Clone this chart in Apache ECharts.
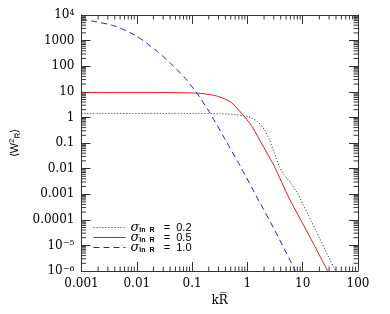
<!DOCTYPE html>
<html><head><meta charset="utf-8">
<script src="https://cdn.jsdelivr.net/npm/echarts@6/dist/echarts.min.js"></script>
<style>html,body{margin:0;padding:0;background:#fff}#c{width:390px;height:314px}</style>
</head><body><div id="c"></div>
<script>
// ---- data ([k*Rbar, <W^2>]) ----
const sigma02 = [[0.001,1.43],[0.1,1.43],[0.316,1.38],[0.447,1.35],[0.631,1.26],[1.0,1.1],[1.26,0.89],[1.55,0.676],[2.04,0.324],[2.51,0.132],[3.08,0.0398],[3.78,0.012],[4.63,0.00562],[6.11,0.00269],[8.04,0.0011],[10,0.00042],[13.9,1e-4],[36.3,1.4e-6],[39.8,1e-6]];
const sigma05 = [[0.001,9.48],[0.01,9.46],[0.0316,9.38],[0.1,9.0],[0.158,8.5],[0.261,7.1],[0.355,5.75],[0.518,3.75],[0.782,1.45],[1.175,0.49],[1.78,0.102],[3.08,0.012],[5.69,6.9e-4],[10,7.1e-5],[15.8,1.12e-5],[28.2,1e-6]];
const sigma10 = [[0.001,6900],[0.002,5250],[0.00347,4070],[0.005,3090],[0.00692,2240],[0.01,1480],[0.0138,912],[0.0237,372],[0.0407,129],[0.0711,38.9],[0.123,8.7],[0.212,1.45],[0.398,0.135],[0.782,0.0102],[1.55,6.5e-4],[3.16,3.7e-5],[7.4,1e-6]];
const seriesNames = ['0.2','0.5','1.0'];
const xTickLabels = ['0.001','0.01','0.1','1','10','100'];           // 10^-3 .. 10^2
const yTickLabels = ['10{sup|\u22126}','10{sup|\u22125}','0.0001','0.001','0.01','0.1','1','10','100','1000','10{sup|4}']; // 10^-6 .. 10^4
const xMin = 0.001, xMax = 100, yMin = 1e-6, yMax = 1e4;

const font = 'DejaVu Serif';
const sans = 'Liberation Sans';
const colors = ['#222222', '#e8141c', '#1a1aff'];
const dashes = [[1, 2], 'solid', [6, 4]];
const minorX = [], minorY = [];
for (let d = -3; d < 2; d++) for (let m = 2; m <= 9; m++) minorX.push([m * Math.pow(10, d), yMin]);
for (let d = -6; d < 4; d++) for (let m = 2; m <= 9; m++) minorY.push([xMin, m * Math.pow(10, d)]);

const chart = echarts.init(document.getElementById('c'), null, {renderer: 'canvas'});
const axisCol = '#333';
function xAx(pos, labels) {
  return {type: 'log', logBase: 10, min: xMin, max: xMax, interval: 1, position: pos,
    axisLine: {show: true, onZero: false, lineStyle: {color: axisCol, width: 1}},
    axisTick: {show: true, inside: true, length: 9, lineStyle: {color: axisCol}},
    splitLine: {show: false},
    axisLabel: {show: labels, margin: 7, color: '#000', fontFamily: font, fontSize: 12,
      formatter: v => xTickLabels[Math.round(Math.log10(v)) + 3]},
    name: labels ? 'k\u0052\u0305' : '', nameLocation: 'middle', nameGap: 22,
    nameTextStyle: {fontFamily: font, fontSize: 12, color: '#000'}};
}
function yAx(pos, labels) {
  return {type: 'log', logBase: 10, min: yMin, max: yMax, interval: 1, position: pos,
    axisLine: {show: true, onZero: false, lineStyle: {color: axisCol, width: 1}},
    axisTick: {show: true, inside: true, length: 9, lineStyle: {color: axisCol}},
    splitLine: {show: false},
    axisLabel: {show: labels, margin: 7, color: '#000', fontFamily: font, fontSize: 12,
      formatter: v => yTickLabels[Math.round(Math.log10(v)) + 6],
      rich: {sup: {fontSize: 8, fontFamily: font, verticalAlign: 'top', lineHeight: 10, padding: [0,0,4,0]}}},
    name: labels ? '\u27e8W{sup|2}{sub|R\u0305}\u27e9' : '', nameLocation: 'middle', nameGap: 60, nameRotate: 90,
    nameTextStyle: {fontFamily: sans, fontSize: 11, color: '#000',
      rich: {sup: {fontSize: 8, fontFamily: sans, padding: [0,0,5,0]}, sub: {fontSize: 8, fontFamily: sans, padding: [6,0,0,0]}}}};
}
function tickSeries(data, horizontal) {
  return {type: 'custom', silent: true, data: data, xAxisIndex: 0, yAxisIndex: 0, z: 5,
    renderItem: (params, api) => {
      const L = 4.5;
      let a, b;
      if (horizontal) { a = api.coord([api.value(0), yMin]); b = api.coord([api.value(0), yMax]);
        return {type: 'group', children: [
          {type: 'line', shape: {x1: a[0], y1: a[1], x2: a[0], y2: a[1] - L}, style: {stroke: axisCol, lineWidth: 1}},
          {type: 'line', shape: {x1: b[0], y1: b[1], x2: b[0], y2: b[1] + L}, style: {stroke: axisCol, lineWidth: 1}}]};
      } else { a = api.coord([xMin, api.value(1)]); b = api.coord([xMax, api.value(1)]);
        return {type: 'group', children: [
          {type: 'line', shape: {x1: a[0], y1: a[1], x2: a[0] + L, y2: a[1]}, style: {stroke: axisCol, lineWidth: 1}},
          {type: 'line', shape: {x1: b[0], y1: b[1], x2: b[0] - L, y2: b[1]}, style: {stroke: axisCol, lineWidth: 1}}]};
      }
    }};
}
function lineSeries(i, data) {
  return {name: seriesNames[i], type: 'line', data: data, symbol: 'circle', symbolSize: 0, showSymbol: false, smooth: 0.2,
    xAxisIndex: 0, yAxisIndex: 0, clip: true, color: colors[i],
    lineStyle: {color: colors[i], width: 1, type: dashes[i]}, itemStyle: {color: colors[i]}};
}
chart.setOption({
  animation: false,
  backgroundColor: '#fff',
  grid: {left: 78, top: 15, right: 32, bottom: 43, containLabel: false},
  xAxis: [xAx('bottom', true), xAx('top', false)],
  yAxis: [yAx('left', true), yAx('right', false)],
  legend: {data: seriesNames.map((n, i) => ({name: n,
      lineStyle: {color: colors[i], width: 1, type: dashes[i], opacity: 1}})),
    orient: 'vertical', left: 88, top: 216, itemWidth: 32, itemHeight: 10, itemGap: -3,
    itemStyle: {opacity: 0},
    textStyle: {fontFamily: sans, fontSize: 11, color: '#000', lineHeight: 10,
      rich: {s: {fontSize: 13, fontStyle: 'italic', fontFamily: font, lineHeight: 10},
             sub: {fontSize: 7, fontFamily: sans, fontWeight: 'bold', lineHeight: 10, padding: [5,0,0,0]},
             t: {fontSize: 11, fontFamily: sans, lineHeight: 10}}},
    formatter: n => '{s|\u03c3}{sub|ln  R}{t|   =  ' + n + '}'},
  series: [
    lineSeries(0, sigma02),
    lineSeries(1, sigma05),
    lineSeries(2, sigma10),
    tickSeries(minorX, true),
    tickSeries(minorY, false)
  ]
});
</script></body></html>
